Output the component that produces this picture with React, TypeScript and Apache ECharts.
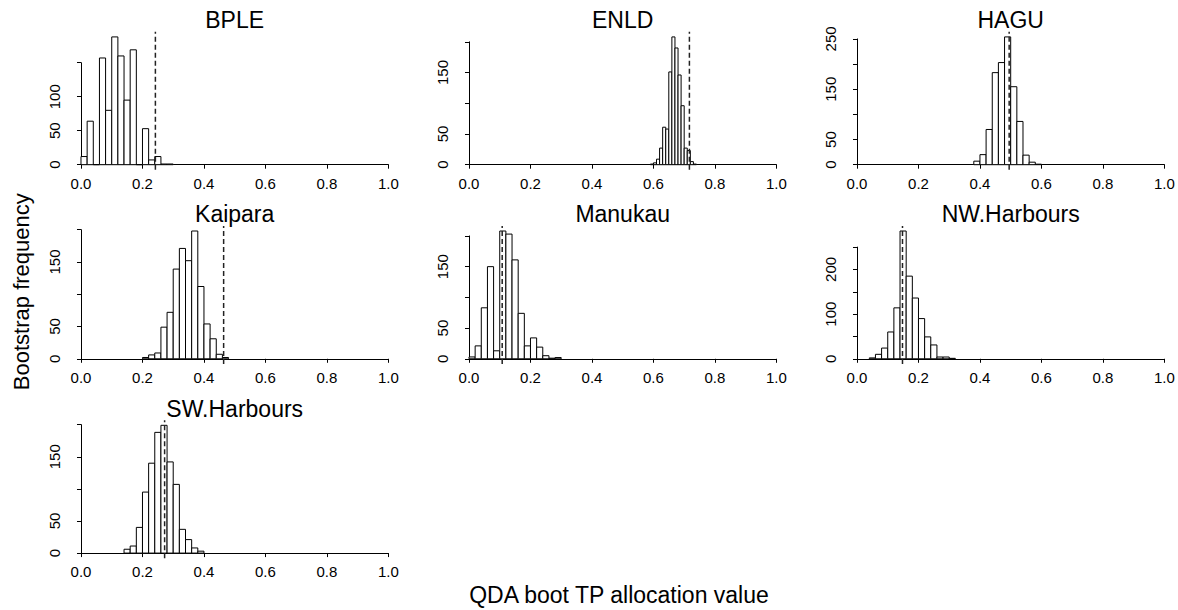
import { useEffect, useRef } from "react";
import * as echarts from "echarts";

// bootstrap histograms, one panel per site
const names = ["BPLE", "ENLD", "HAGU", "Kaipara", "Manukau", "NW.Harbours", "SW.Harbours"];
const binStart = [0.0, 0.59, 0.38, 0.2, 0.0, 0.04, 0.14];
const binWidth = [0.02, 0.01, 0.02, 0.02, 0.02, 0.02, 0.02];

const countsBPLE = [12, 64, 0, 157, 80, 188, 160, 95, 169, 0, 53, 7, 12, 1, 1];
const countsENLD = [1, 3, 9, 27, 61, 58, 151, 208, 190, 146, 96, 27, 23, 5, 1];
const countsHAGU = [7, 20, 70, 183, 203, 254, 155, 86, 19, 5, 1];
const countsKaipara = [2, 6, 9, 49, 72, 139, 171, 152, 198, 112, 54, 31, 7, 2];
const countsManukau = [3, 21, 83, 150, 13, 208, 203, 161, 74, 21, 34, 19, 5, 1, 2];
const countsNW = [2, 10, 24, 60, 114, 286, 185, 136, 90, 49, 31, 4, 4, 1];
const countsSW = [6, 11, 40, 95, 140, 188, 199, 142, 107, 37, 21, 8, 3];
const counts = [countsBPLE, countsENLD, countsHAGU, countsKaipara, countsManukau, countsNW, countsSW];

// observed value (dashed line)
const observed = [0.242, 0.717, 0.495, 0.464, 0.108, 0.148, 0.272];

const xTicks = [0, 0.2, 0.4, 0.6, 0.8, 1.0];
const yTicks = [
  [0, 50, 100, 150],
  [0, 50, 100, 150, 200],
  [0, 50, 100, 150, 200, 250],
  [0, 50, 100, 150, 200],
  [0, 50, 100, 150, 200],
  [0, 50, 100, 150, 200, 250],
  [0, 50, 100, 150, 200],
];
const yLabels = [
  [0, 50, 100],
  [0, 50, 150],
  [0, 50, 150, 250],
  [0, 50, 150],
  [0, 50, 150],
  [0, 100, 200],
  [0, 50, 150],
];

const FONT = '"Liberation Sans", Arial, Helvetica, sans-serif';
const colLeft = [68.7, 456.7, 844.7];
const rowBottom = [169.8, 363.9, 558.2];
const PLOT_W = 332;
const PLOT_H = 138;

function App() {
  const ref = useRef<HTMLDivElement>(null);

  useEffect(() => {
    document.body.style.margin = "0";
    if (!ref.current) return;
    const chart = echarts.init(ref.current, null, { renderer: "svg" });

    const grids: any[] = [];
    const xAxes: any[] = [];
    const yAxes: any[] = [];
    const series: any[] = [];
    const graphics: any[] = [];

    names.forEach((name, i) => {
      const col = i % 3;
      const row = Math.floor(i / 3);
      const data = counts[i];
      const ymax = Math.max(...data);
      const pxX = PLOT_W / 1.08;
      const pxY = PLOT_H / (1.08 * ymax);
      const left = colLeft[col] + 0.04 * PLOT_W / 1.08;
      const base = rowBottom[row] - 0.04 * ymax * pxY;
      const topTick = yTicks[i][yTicks[i].length - 1];

      grids.push({
        left,
        top: base - topTick * pxY,
        width: pxX,
        height: topTick * pxY,
        containLabel: false,
        outerBoundsMode: "none",
      });

      xAxes.push({
        type: "value",
        gridIndex: i,
        min: 0,
        max: 1,
        interval: 0.2,
        offset: 0.04 * ymax * pxY,
        splitLine: { show: false },
        axisLine: { lineStyle: { color: "#000", width: 1 } },
        axisTick: { length: 4, customValues: xTicks, lineStyle: { color: "#000" } },
        axisLabel: {
          customValues: xTicks,
          fontFamily: FONT,
          fontSize: 15,
          color: "#000",
          margin: 6,
          formatter: (v: number) => v.toFixed(1),
        },
      });

      yAxes.push({
        type: "value",
        gridIndex: i,
        min: 0,
        max: topTick,
        offset: 0.04 * PLOT_W / 1.08,
        splitLine: { show: false },
        axisLine: { show: true, lineStyle: { color: "#000", width: 1 } },
        axisTick: { show: true, length: 4, customValues: yTicks[i], lineStyle: { color: "#000" } },
        axisLabel: {
          customValues: yLabels[i],
          rotate: 90,
          fontFamily: FONT,
          fontSize: 15,
          color: "#000",
          margin: 7,
        },
      });

      series.push({
        type: "custom",
        xAxisIndex: i,
        yAxisIndex: i,
        clip: false,
        data: data.map((c, k) => [binStart[i] + k * binWidth[i], binStart[i] + (k + 1) * binWidth[i], c]),
        encode: { x: [0, 1], y: 2 },
        renderItem: (_p: any, api: any) => {
          const a = api.coord([api.value(0), 0]);
          const b = api.coord([api.value(1), api.value(2)]);
          return {
            type: "rect",
            shape: { x: a[0], y: b[1], width: b[0] - a[0], height: a[1] - b[1] },
            style: { fill: "#fff", stroke: "#000", lineWidth: 1 },
          };
        },
      });

      series.push({
        type: "line",
        xAxisIndex: i,
        yAxisIndex: i,
        clip: false,
        symbol: "none",
        silent: true,
        data: [
          [observed[i], -0.04 * ymax],
          [observed[i], 1.04 * ymax],
        ],
        lineStyle: { color: "#222", width: 1.5, type: [5, 3] },
      });

      graphics.push({
        type: "text",
        style: {
          text: name,
          x: colLeft[col] + PLOT_W / 2,
          y: rowBottom[row] - PLOT_H - 11.5,
          textAlign: "center",
          textVerticalAlign: "middle",
          align: "center",
          verticalAlign: "middle",
          fontFamily: FONT,
          fontSize: 23,
          fill: "#000",
        },
      });
    });

    graphics.push({
      type: "text",
      x: 21.5,
      y: 291.7,
      rotation: Math.PI / 2,
      style: {
        text: "Bootstrap frequency",
        x: 0,
        y: 0,
        textAlign: "center",
        textVerticalAlign: "middle",
        align: "center",
        verticalAlign: "middle",
        fontFamily: FONT,
        fontSize: 22,
        fill: "#000",
      },
    });
    graphics.push({
      type: "text",
      style: {
        text: "QDA boot TP allocation value",
        x: 619,
        y: 595,
        textAlign: "center",
        textVerticalAlign: "middle",
        align: "center",
        verticalAlign: "middle",
        fontFamily: FONT,
        fontSize: 23,
        fill: "#000",
      },
    });

    chart.setOption({
      animation: false,
      backgroundColor: "#fff",
      grid: grids,
      xAxis: xAxes,
      yAxis: yAxes,
      series,
      graphic: graphics,
    });

    return () => {
      chart.dispose();
    };
  }, []);

  return <div ref={ref} style={{ width: "1178px", height: "610px" }} />;
}

export default App;
